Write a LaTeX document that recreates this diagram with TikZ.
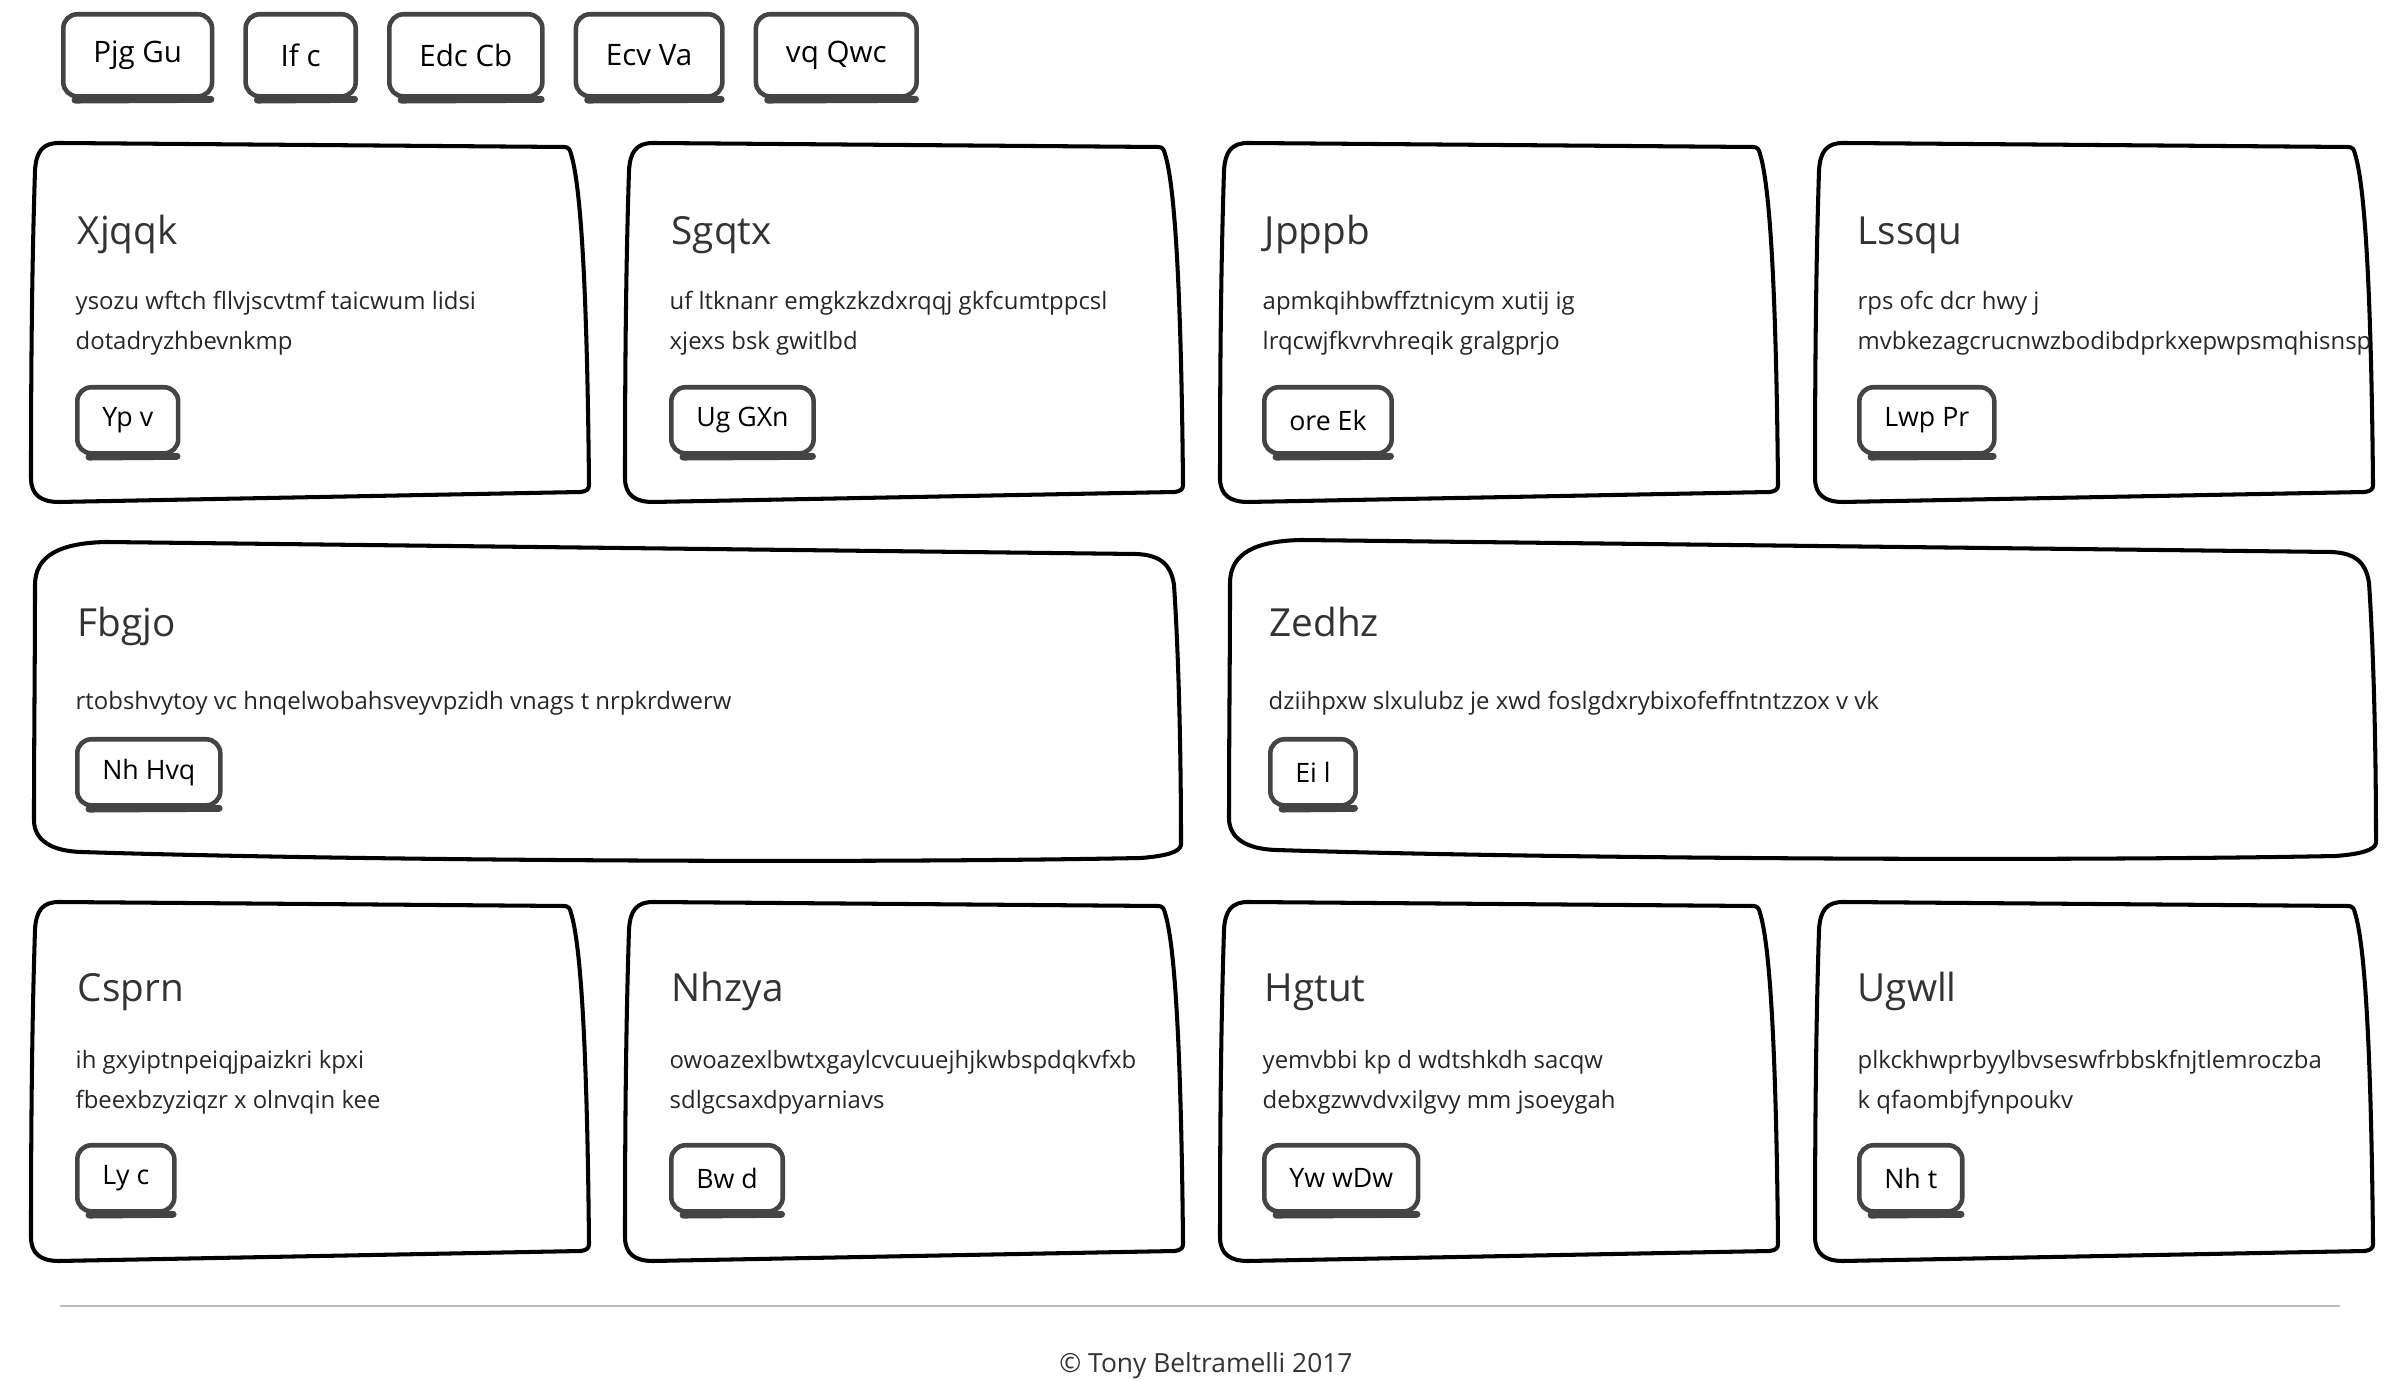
\documentclass[tikz,border=0pt]{standalone}
\usepackage{fontspec}
\setmainfont{Open Sans}
\usetikzlibrary{positioning}

\definecolor{btngray}{HTML}{444444}
\definecolor{inkgray}{HTML}{333333}
\definecolor{rulegray}{HTML}{BBBBBB}

% hand drawn outlines, origin at the top left corner of the card
\newcommand{\narrowcard}{%
  \draw[card] (0,335) .. controls (0,180) and (2,90) .. (4,28)
    .. controls (5,8) and (12,0) .. (28,0) -- (533,4)
    .. controls (537,4) and (539,6) .. (540,11)
    .. controls (549,40) and (556,130) .. (558,342)
    .. controls (558,346) and (556,348) .. (550,349) -- (28,359)
    .. controls (10,359) and (0,352) .. (0,335) -- cycle;}
\newcommand{\widecard}{%
  \draw[card] (3,280) .. controls (3,200) and (4,120) .. (4,45)
    .. controls (4,15) and (30,3) .. (75,2) -- (1105,14)
    .. controls (1130,15) and (1140,25) .. (1143,45)
    .. controls (1148,120) and (1150,220) .. (1150,305)
    .. controls (1149,312) and (1135,316) .. (1110,318)
    .. controls (800,324) and (300,320) .. (50,312)
    .. controls (20,311) and (3,300) .. (3,280) -- cycle;}
\newcommand{\btnshade}[1]{%
  \draw[btn shade] ([xshift=4pt,yshift=-.4pt]#1.south west) -- ([xshift=-1pt,yshift=-.2pt]#1.south east);}

\begin{document}
\begin{tikzpicture}[x=0.01cm, y=-0.01cm,
    card/.style={draw=black, line width=1.15pt, line join=round},
    nav btn/.style={draw=btngray, line width=1.3pt, rounded corners=4pt,
      minimum height=0.82cm, minimum width=1.1cm, inner xsep=0.3cm, font=\fontsize{8.4}{9}\selectfont},
    card btn/.style={nav btn, minimum height=0.66cm, minimum width=0cm, inner xsep=0.25cm,
      anchor=north west, font=\fontsize{7.6}{9}\selectfont},
    btn shade/.style={draw=btngray, line width=2pt, line cap=round},
    title/.style={anchor=base west, inner sep=0, text=inkgray, font=\fontsize{11}{13}\selectfont},
    body/.style={anchor=base west, inner sep=0, text=black!85, font=\fontsize{6.8}{8}\selectfont}]
  \useasboundingbox (0,0) rectangle (2400,1380);

  % navigation
  \node[nav btn, anchor=north west] (nav1) at (61,12) {Pjg Gu};
  \node[nav btn, right=0.29cm of nav1] (nav2) {If c};
  \node[nav btn, right=0.29cm of nav2] (nav3) {Edc Cb};
  \node[nav btn, right=0.29cm of nav3] (nav4) {Ecv Va};
  \node[nav btn, right=0.29cm of nav4] (nav5) {vq Qwc};
  \foreach \n in {1,...,5} {\btnshade{nav\n}}

  % first row
  \begin{scope}[shift={(31,143)}]
    \narrowcard
    \node[title] (t1) at (46,102) {Xjqqk};
    \node[body] (p1a) at (44,167) {ysozu wftch fllvjscvtmf taicwum lidsi};
    \node[body] (p1b) at (44,207) {dotadryzhbevnkmp};
    \node[card btn] (b1) at (44,242) {Yp v};
    \btnshade{b1}
  \end{scope}

  \begin{scope}[shift={(625,143)}]
    \narrowcard
    \node[title] (t2) at (46,102) {Sgqtx};
    \node[body] (p2a) at (44,167) {uf ltknanr emgkzkzdxrqqj gkfcumtppcsl};
    \node[body] (p2b) at (44,207) {xjexs bsk gwitlbd};
    \node[card btn] (b2) at (44,242) {Ug GXn};
    \btnshade{b2}
  \end{scope}

  \begin{scope}[shift={(1220,143)}]
    \narrowcard
    \node[title] (t3) at (44,102) {Jpppb};
    \node[body] (p3a) at (42,167) {apmkqihbwffztnicym xutij ig};
    \node[body] (p3b) at (42,207) {lrqcwjfkvrvhreqik gralgprjo};
    \node[card btn] (b3) at (42,242) {ore Ek};
    \btnshade{b3}
  \end{scope}

  \begin{scope}[shift={(1815,143)}]
    \narrowcard
    \node[title] (t4) at (42,102) {Lssqu};
    \node[body] (p4a) at (42,167) {rps ofc dcr hwy j};
    \node[body] (p4b) at (42,207) {mvbkezagcrucnwzbodibdprkxepwpsmqhisnsp};
    \node[card btn] (b4) at (42,242) {Lwp Pr};
    \btnshade{b4}
  \end{scope}

  % second row
  \begin{scope}[shift={(31,540)}]
    \widecard
    \node[title] (t5) at (46,97) {Fbgjo};
    \node[body] (p5a) at (44,170) {rtobshvytoy vc hnqelwobahsveyvpzidh vnags t nrpkrdwerw};
    \node[card btn] (b5) at (44,197) {Nh Hvq};
    \btnshade{b5}
  \end{scope}

  \begin{scope}[shift={(1226,538)}]
    \widecard
    \node[title] (t6) at (43,99) {Zedhz};
    \node[body] (p6a) at (42,172) {dziihpxw slxulubz je xwd foslgdxrybixofeffntntzzox v vk};
    \node[card btn] (b6) at (42,199) {Ei l};
    \btnshade{b6}
  \end{scope}

  % third row
  \begin{scope}[shift={(31,902)}]
    \narrowcard
    \node[title] (t7) at (46,100) {Csprn};
    \node[body] (p7a) at (44,167) {ih gxyiptnpeiqjpaizkri kpxi};
    \node[body] (p7b) at (44,207) {fbeexbzyziqzr x olnvqin kee};
    \node[card btn] (b7) at (44,241) {Ly c};
    \btnshade{b7}
  \end{scope}

  \begin{scope}[shift={(625,902)}]
    \narrowcard
    \node[title] (t8) at (46,100) {Nhzya};
    \node[body] (p8a) at (44,167) {owoazexlbwtxgaylcvcuuejhjkwbspdqkvfxb};
    \node[body] (p8b) at (44,207) {sdlgcsaxdpyarniavs};
    \node[card btn] (b8) at (44,241) {Bw d};
    \btnshade{b8}
  \end{scope}

  \begin{scope}[shift={(1220,902)}]
    \narrowcard
    \node[title] (t9) at (44,100) {Hgtut};
    \node[body] (p9a) at (42,167) {yemvbbi kp d wdtshkdh sacqw};
    \node[body] (p9b) at (42,207) {debxgzwvdvxilgvy mm jsoeygah};
    \node[card btn] (b9) at (42,241) {Yw wDw};
    \btnshade{b9}
  \end{scope}

  \begin{scope}[shift={(1815,902)}]
    \narrowcard
    \node[title] (t10) at (42,100) {Ugwll};
    \node[body] (p10a) at (42,167) {plkckhwprbyylbvseswfrbbskfnjtlemroczba};
    \node[body] (p10b) at (42,207) {k qfaombjfynpoukv};
    \node[card btn] (b10) at (42,241) {Nh t};
    \btnshade{b10}
  \end{scope}

  % footer
  \draw[rulegray, line width=0.8pt] (60,1306) -- (2340,1306);
  \node[anchor=base, inner sep=0, text=inkgray, font=\fontsize{7.5}{9}\selectfont] (copy) at (1206,1372) {© Tony Beltramelli 2017};
\end{tikzpicture}
\end{document}
